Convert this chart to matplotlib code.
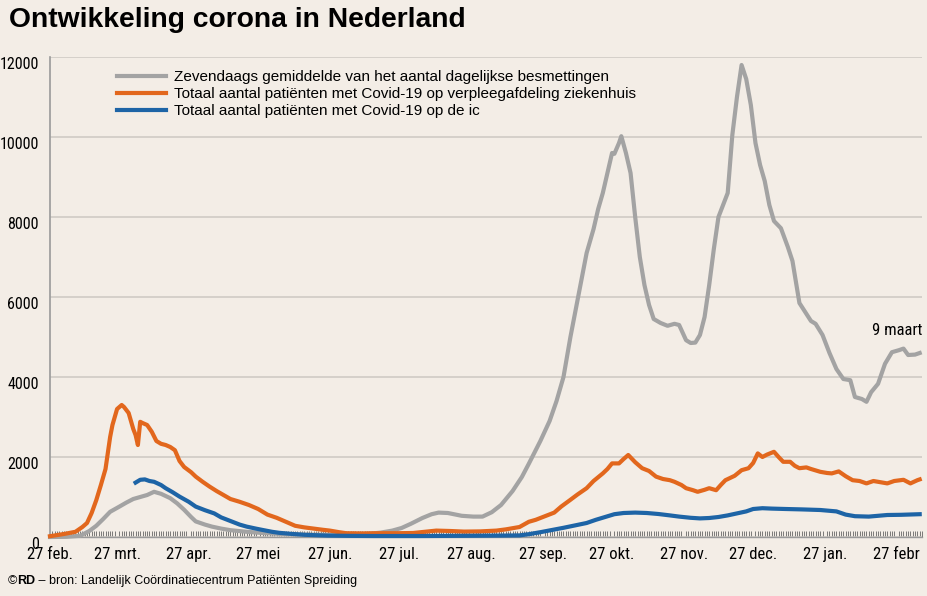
import matplotlib
matplotlib.use("Agg")
import matplotlib.pyplot as plt
import matplotlib.dates as mdates
import numpy as np
import pandas as pd
from matplotlib import font_manager

START = "2020-02-27"

# ---- data (x = days since 27 feb 2020) ----
cases_days = [0, 7, 13, 17, 20, 23, 26, 30, 33, 36, 39, 42, 45, 48, 52, 55, 58, 61, 63, 67, 70, 74, 78, 85, 92,
              100, 110, 120, 130, 138, 143, 148, 152, 156, 161, 165, 168, 172, 178, 183, 187, 191, 195, 200, 204,
              207, 212, 216, 219, 222, 225, 228, 232, 235, 237, 239, 241, 243, 244, 246, 247, 249, 251, 253, 255,
              257, 259, 261, 264, 267, 270, 272, 275, 277, 279, 281, 283, 285, 287, 289, 291, 293, 295, 297, 299,
              301, 303, 305, 307, 309, 311, 313, 316, 319, 321, 323, 324, 327, 329, 331, 334, 337, 340, 343, 346,
              348, 351, 353, 355, 358, 361, 364, 367, 369, 371, 374, 376]
cases_vals = [0, 5, 30, 150, 280, 450, 630, 760, 860, 950, 1000, 1050, 1130, 1080, 970, 840, 680, 500, 390, 310,
              260, 210, 170, 130, 100, 75, 60, 55, 65, 80, 110, 160, 225, 330, 475, 570, 610, 600, 530, 510, 510,
              620, 800, 1150, 1500, 1830, 2400, 2900, 3400, 4000, 5000, 5900, 7100, 7700, 8200, 8600, 9100, 9600,
              9580, 9850, 10020, 9600, 9100, 8000, 7000, 6300, 5800, 5450, 5350, 5280, 5330, 5300, 4920, 4850,
              4860, 5050, 5500, 6300, 7200, 8000, 8300, 8600, 10050, 11000, 11800, 11450, 10800, 9850, 9300, 8900,
              8300, 7900, 7720, 7250, 6900, 6200, 5850, 5580, 5400, 5330, 5050, 4600, 4200, 3950, 3920, 3500, 3450,
              3380, 3620, 3830, 4330, 4620, 4670, 4710, 4550, 4560, 4600]

ward_days = [0, 6, 11, 14, 16, 18, 20, 22, 24, 26, 27, 29, 31, 32, 34, 36, 37, 38, 39, 40, 42, 44, 46, 48, 50,
             52, 54, 56, 58, 61, 63, 66, 69, 72, 75, 78, 82, 86, 90, 94, 98, 102, 106, 110, 114, 118, 121, 125,
             128, 135, 142, 150, 157, 162, 167, 173, 179, 186, 193, 197, 200, 203, 207, 210, 214, 218, 221, 225,
             228, 232, 235, 239, 241, 243, 246, 248, 250, 253, 256, 259, 262, 265, 268, 270, 273, 275, 278, 280,
             283, 285, 288, 290, 292, 296, 299, 302, 304, 306, 308, 310, 313, 315, 317, 320, 322, 324, 327, 329,
             333, 336, 338, 341, 344, 347, 350, 353, 356, 358, 362, 365, 369, 372, 375, 376]
ward_vals = [20, 75, 130, 250, 350, 600, 920, 1300, 1700, 2500, 2800, 3200, 3300, 3250, 3100, 2700, 2550, 2300,
             2880, 2850, 2800, 2630, 2400, 2330, 2300, 2250, 2170, 1900, 1750, 1620, 1510, 1380, 1260, 1150, 1050,
             950, 880, 800, 700, 560, 480, 380, 280, 240, 210, 180, 160, 120, 95, 90, 95, 95, 100, 130, 160, 150,
             135, 140, 160, 190, 220, 250, 380, 430, 520, 610, 760, 930, 1060, 1220, 1400, 1590, 1700, 1840, 1840,
             1950, 2050, 1870, 1720, 1650, 1510, 1450, 1420, 1380, 1300, 1220, 1170, 1130, 1180, 1220, 1170, 1300,
             1420, 1530, 1670, 1720, 1850, 2090, 2000, 2060, 2130, 2000, 1880, 1880, 1780, 1720, 1740, 1700, 1630,
             1600, 1590, 1640, 1520, 1420, 1400, 1340, 1400, 1380, 1340, 1400, 1430, 1340, 1420, 1440]

ic_days = [37, 39, 41, 43, 45, 48, 50, 53, 56, 60, 63, 67, 71, 74, 78, 82, 85, 89, 92, 96, 99, 105, 110, 120,
           130, 140, 160, 180, 195, 203, 207, 212, 217, 222, 227, 232, 236, 240, 244, 248, 253, 258, 263, 268,
           272, 277, 281, 285, 289, 293, 297, 301, 304, 308, 312, 318, 325, 333, 340, 344, 348, 354, 358, 362,
           368, 376]
ic_vals = [1360, 1430, 1440, 1400, 1380, 1300, 1220, 1120, 1010, 880, 760, 670, 590, 490, 400, 310, 260, 210,
           175, 130, 105, 75, 55, 35, 28, 25, 25, 30, 35, 40, 70, 120, 175, 230, 290, 350, 430, 500, 570, 600,
           610, 600, 575, 540, 510, 480, 465, 475, 500, 540, 590, 640, 700, 720, 710, 700, 690, 675, 640, 560,
           520, 510, 530, 550, 555, 570]

series_labels = ["Zevendaags gemiddelde van het aantal dagelijkse besmettingen",
                 "Totaal aantal patiënten met Covid-19 op verpleegafdeling ziekenhuis",
                 "Totaal aantal patiënten met Covid-19 op de ic"]
x_tick_labels = ["27 feb.", "27 mrt.", "27 apr.", "27 mei", "27 jun.", "27 jul.", "27 aug.",
                 "27 sep.", "27 okt.", "27 nov.", "27 dec.", "27 jan.", "27 febr"]
y_ticks = [0, 2000, 4000, 6000, 8000, 10000, 12000]
title = "Ontwikkeling corona in Nederland"
end_label = "9 maart"
source_parts = ["©", "RD", " – bron: Landelijk Coördinatiecentrum Patiënten Spreiding"]

# ---- style ----
BG = "#f3ede6"
GREY = "#a3a3a3"
ORANGE = "#e2671d"
BLUE = "#1d64a6"

avail = {f.name for f in font_manager.fontManager.ttflist}
COND = [f for f in ["Liberation Sans Narrow", "Roboto Condensed", "Open Sans Condensed"] if f in avail] + ["Liberation Sans", "DejaVu Sans"]
SANS = ["Liberation Sans", "DejaVu Sans"]
plt.rcParams["font.family"] = SANS

start = pd.Timestamp(START)
def to_dates(days):
    return start + pd.to_timedelta(days, unit="D")

fig = plt.figure(figsize=(9.28, 5.96), dpi=100, facecolor=BG)
W, H = 928, 596
ax_l, ax_r, ax_t, ax_b = 50, 922, 57, 537
ax = fig.add_axes([ax_l / W, (H - ax_b) / H, (ax_r - ax_l) / W, (ax_b - ax_t) / H])
ax.set_facecolor(BG)

lw = 3.0
ax.plot(to_dates(cases_days), cases_vals, color=GREY, lw=lw, label=series_labels[0], clip_on=False,
        solid_joinstyle="round", zorder=3)
ax.plot(to_dates(ward_days), ward_vals, color=ORANGE, lw=lw, label=series_labels[1], clip_on=False,
        solid_joinstyle="round", zorder=4)
ax.plot(to_dates(ic_days), ic_vals, color=BLUE, lw=lw, label=series_labels[2], clip_on=False,
        solid_joinstyle="round", zorder=5)

ax.set_ylim(0, 12000)
ax.set_xlim(start, start + pd.Timedelta(days=377))

# y axis
ax.set_yticks(y_ticks)
ax.set_yticklabels([str(v) for v in y_ticks], family=COND, fontsize=11.5, ha="right", va="top")
ax.tick_params(axis="y", length=0, pad=11 * 72 / 100)
ax.grid(axis="y", color="#cdc8c2", lw=1.1, zorder=1)
ax.grid(axis="x", visible=False)

# x axis
xt = [start + pd.DateOffset(months=i) for i in range(len(x_tick_labels))]
ax.set_xticks(xt)
ax.set_xticklabels(x_tick_labels, family=COND, fontsize=12)
ax.tick_params(axis="x", which="major", length=0, pad=7)
ax.xaxis.set_minor_locator(mdates.DayLocator())
ax.tick_params(axis="x", which="minor", length=4, width=0.6, direction="in", color="#666666")

for s in ["top", "right"]:
    ax.spines[s].set_visible(False)
ax.spines["left"].set_color("#9a9a9a")
ax.spines["left"].set_linewidth(1.2)
ax.spines["bottom"].set_color("#9a9a9a")
ax.spines["bottom"].set_linewidth(1.0)

leg = ax.legend(loc="upper left", bbox_to_anchor=((117 - ax_l) / (ax_r - ax_l), (ax_b - 70) / (ax_b - ax_t)),
                frameon=False, fontsize=11, handlelength=3.2, handletextpad=0.5, labelspacing=0.2,
                borderpad=0, borderaxespad=0)

ax.annotate(end_label, xy=(to_dates([cases_days[-1]])[0], cases_vals[-1]), xytext=(2, 11),
            textcoords="offset points", ha="right", va="bottom", family=COND, fontsize=12)

fig.text(9 / W, 1 - 20 / H, title, fontsize=20.3, fontweight="bold", va="center", ha="left")

t = fig.text(8 / W, 1 - 581 / H, source_parts[0], fontsize=9, va="center", ha="left")
t2 = fig.text(0, 0, source_parts[1], fontsize=9, fontweight="bold", va="bottom", ha="left")
fig.canvas.draw()
bb = t.get_window_extent()
t2.set_position(((bb.x1) / W, bb.y0 / H))
t2.set_va("bottom")
fig.canvas.draw()
bb2 = t2.get_window_extent()
fig.text(bb2.x1 / W, bb.y0 / H, source_parts[2], fontsize=9, va="bottom", ha="left")

fig.savefig("out.png", dpi=100, facecolor=BG)
